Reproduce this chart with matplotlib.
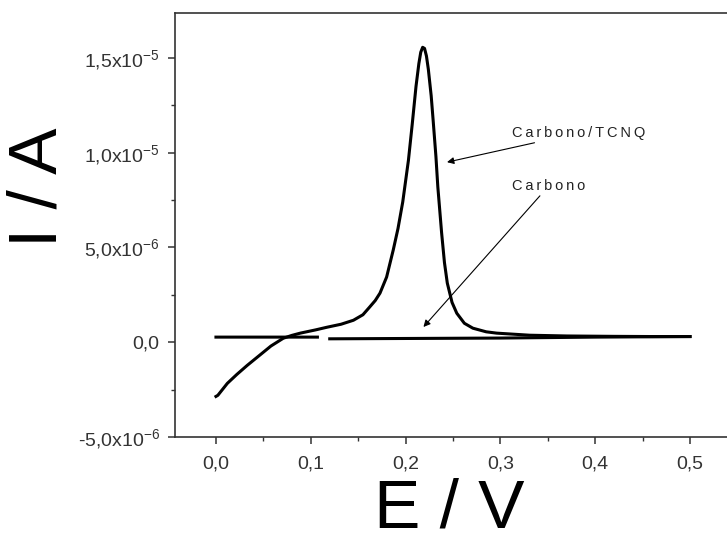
import numpy as np
import matplotlib
matplotlib.use('Agg')
import matplotlib.pyplot as plt
from matplotlib.ticker import MultipleLocator

plt.rcParams['font.family'] = ['Liberation Sans', 'DejaVu Sans']
plt.rcParams['mathtext.fontset'] = 'custom'
plt.rcParams['mathtext.rm'] = 'Liberation Sans'

# Carbono/TCNQ curve (E in V, I in uA)
tcnq_e = [0.000, 0.002, 0.012, 0.022, 0.033, 0.046, 0.058, 0.071, 0.080, 0.089,
          0.105, 0.117, 0.132, 0.145, 0.155, 0.162, 0.168, 0.173, 0.180, 0.187,
          0.192, 0.197, 0.203, 0.207, 0.211, 0.214, 0.216, 0.218, 0.220, 0.222,
          0.224, 0.227, 0.229, 0.232, 0.234, 0.238, 0.241, 0.244, 0.249, 0.254,
          0.262, 0.271, 0.285, 0.296, 0.315, 0.331, 0.37, 0.42, 0.46, 0.50]
tcnq_i = [-2.86, -2.80, -2.17, -1.70, -1.22, -0.69, -0.20, 0.21, 0.36, 0.48,
          0.65, 0.79, 0.95, 1.16, 1.45, 1.85, 2.20, 2.59, 3.44, 4.87,
          6.00, 7.40, 9.60, 11.50, 13.50, 14.70, 15.30, 15.56, 15.50, 15.10,
          14.40, 13.00, 11.75, 9.80, 8.20, 5.77, 4.20, 3.12, 2.10, 1.53,
          1.00, 0.74, 0.55, 0.48, 0.42, 0.37, 0.33, 0.31, 0.30, 0.30]

# Carbono baseline
carbono_e = [0.000, 0.107, np.nan, 0.120, 0.30, 0.40, 0.50]
carbono_i = [0.27, 0.27, np.nan, 0.18, 0.22, 0.27, 0.30]

ytick_vals = [-5e-6, 0.0, 5e-6, 1e-5, 1.5e-5]
ytick_labels = [r'-5,0x10$^{\mathregular{-6}}$', '0,0', r'5,0x10$^{\mathregular{-6}}$',
                r'1,0x10$^{\mathregular{-5}}$', r'1,5x10$^{\mathregular{-5}}$']
xtick_vals = [0.0, 0.1, 0.2, 0.3, 0.4, 0.5]
xtick_labels = ['0,0', '0,1', '0,2', '0,3', '0,4', '0,5']

fig = plt.figure(figsize=(7.27, 5.34), dpi=100)
ax = fig.add_axes([175 / 727, 1 - 437 / 534, 552 / 727, 424 / 534])

ax.plot(carbono_e, np.array(carbono_i) * 1e-6, color='black', lw=2.2)
ax.plot(tcnq_e, np.array(tcnq_i) * 1e-6, color='black', lw=2.2)

ax.set_xlim(-0.0432, 0.539)
ax.set_ylim(-5e-6, 1.737e-5)

ax.set_xticks(xtick_vals)
ax.set_xticklabels(xtick_labels)
ax.set_yticks(ytick_vals)
ax.set_yticklabels(ytick_labels)
ax.xaxis.set_minor_locator(MultipleLocator(0.05))
ax.yaxis.set_minor_locator(MultipleLocator(2.5e-6))
ax.tick_params(which='major', direction='out', length=5, width=1.1,
               color='#333333', labelsize=14, labelcolor='#333333', pad=6)
ax.tick_params(which='minor', direction='out', length=3, width=1.0, color='#333333')
ax.tick_params(axis='x', pad=8)

ax.spines['right'].set_visible(False)
for s in ['left', 'bottom', 'top']:
    ax.spines[s].set_color('#333333')
    ax.spines[s].set_linewidth(1.2)

# annotations
ax.annotate('C\u2009a\u2009r\u2009b\u2009o\u2009n\u2009o\u2009/\u2009T\u2009C\u2009N\u2009Q',
            xy=(0.2437, 9.50e-6), xytext=(0.3122, 11.04e-6),
            fontsize=10.5, color='#222222', va='center', ha='left',
            arrowprops=dict(arrowstyle='-|>', color='black', lw=0.8,
                            mutation_scale=10, shrinkA=0, shrinkB=0))
ax.annotate('C\u2009a\u2009r\u2009b\u2009o\u2009n\u2009o',
            xy=(0.213, 0.475e-6), xytext=(0.3122, 8.24e-6),
            fontsize=10.5, color='#222222', va='center', ha='left',
            arrowprops=dict(arrowstyle='-|>', color='black', lw=0.8,
                            mutation_scale=10, shrinkA=0, shrinkB=6))

ax.set_xlabel('E / V', fontsize=50)
ax.xaxis.set_label_coords(0.496, -0.095)
fig.text(39 / 727, 1 - 187 / 534, 'I / A', rotation=90, ha='center', va='center',
         fontsize=50)

fig.savefig('out.png', dpi=100)
